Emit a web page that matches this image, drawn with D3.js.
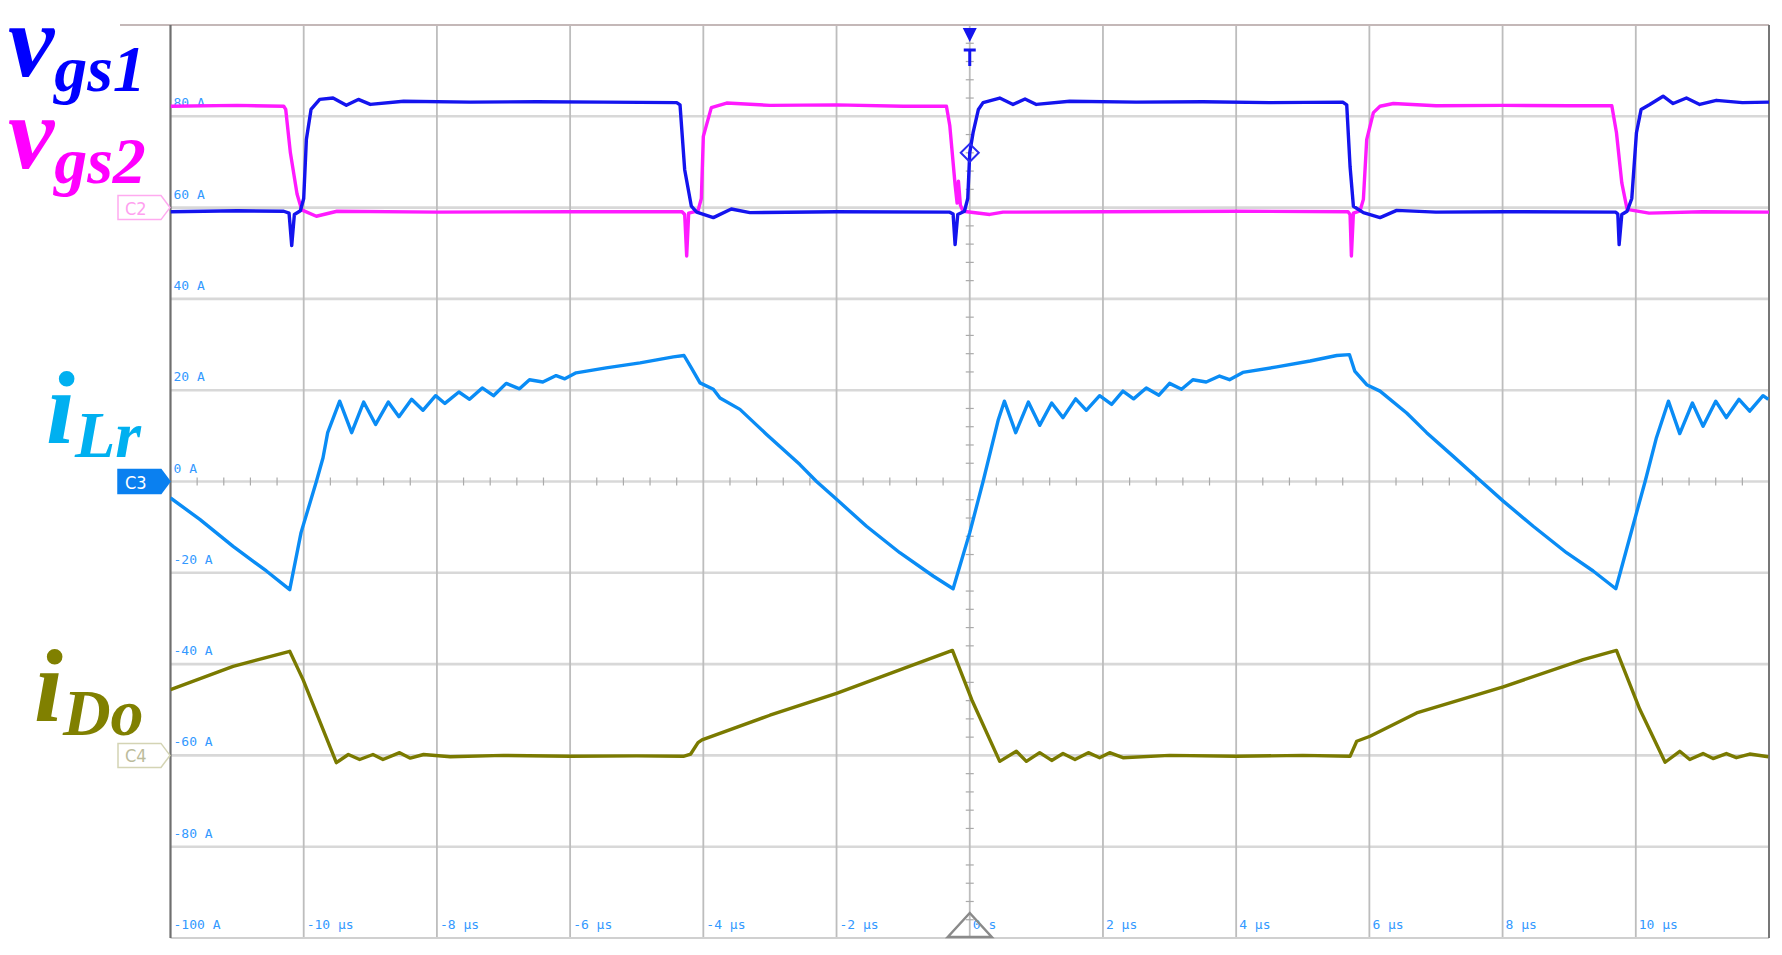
<!DOCTYPE html>
<html>
<head>
<meta charset="utf-8">
<title>vgs1 vgs2 iLr iDo</title>
<script src="https://cdn.jsdelivr.net/npm/d3@7"></script>
<style>
  body { margin: 0; background: #fff; }
  svg { display: block; }
  .ticklabel { font-family: "DejaVu Sans Mono", monospace; font-size: 13px; fill: #3399ff; }
  .sig { font-family: "Liberation Serif", "Times New Roman", serif; font-weight: bold; font-style: italic; }
</style>
</head>
<body>
<div id="chart"></div>
<script>
// time axis (µs) and current axis (A) tick labels
var timeTicks = [-10, -8, -6, -4, -2, 0, 2, 4, 6, 8, 10];
var timeLabels = ["-10 µs", "-8 µs", "-6 µs", "-4 µs", "-2 µs", "0 s", "2 µs", "4 µs", "6 µs", "8 µs", "10 µs"];
var ampTicks = [80, 60, 40, 20, 0, -20, -40, -60, -80, -100];
var ampLabels = ["80 A", "60 A", "40 A", "20 A", "0 A", "-20 A", "-40 A", "-60 A", "-80 A", "-100 A"];

// traces as [time µs, value on screen A-scale]
var vgs1 = [[-12, 59.1], [-11, 59.3], [-10.3, 59.2], [-10.22, 58.8], [-10.18, 51.7], [-10.14, 58.5], [-10.05, 59.3], [-10.0, 62], [-9.96, 74.9], [-9.89, 81.5], [-9.76, 83.7], [-9.56, 84.0], [-9.36, 82.4], [-9.18, 83.7], [-9.0, 82.6], [-8.5, 83.3], [-7.5, 83.1], [-6.5, 83.2], [-5.5, 83.1], [-4.4, 83.0], [-4.35, 82.5], [-4.28, 68.3], [-4.18, 60.3], [-4.10, 59.0], [-3.85, 57.8], [-3.58, 59.7], [-3.3, 58.9], [-2, 59.1], [-0.3, 59.0], [-0.25, 58.6], [-0.22, 51.9], [-0.18, 58.5], [-0.08, 59.2], [-0.03, 62], [0, 72], [0.05, 76.4], [0.13, 81.5], [0.2, 83], [0.45, 84], [0.65, 82.6], [0.83, 83.8], [1.0, 82.6], [1.5, 83.3], [2.5, 83.1], [3.5, 83.2], [4.5, 83.0], [5.6, 83.1], [5.66, 82.5], [5.71, 69], [5.76, 60.3], [5.91, 58.9], [6.16, 57.8], [6.41, 59.4], [7, 59.0], [8, 59.1], [9.7, 59.0], [9.73, 58.6], [9.75, 51.9], [9.79, 58.5], [9.87, 59.2], [9.94, 62], [10.01, 76.4], [10.08, 81.5], [10.21, 82.6], [10.41, 84.4], [10.56, 82.8], [10.76, 84], [10.96, 82.6], [11.21, 83.5], [11.6, 83.0], [12, 83.1]];

var vgs2 = [[-12, 82.2], [-11, 82.4], [-10.3, 82.2], [-10.27, 81.5], [-10.2, 72], [-10.1, 63], [-10.03, 59.5], [-9.81, 58.1], [-9.5, 59.2], [-8, 59.0], [-6, 59.1], [-4.32, 59.1], [-4.28, 58.5], [-4.25, 49.4], [-4.22, 58.8], [-4.08, 59.3], [-4.03, 62], [-4.0, 75.6], [-3.88, 81.9], [-3.65, 82.9], [-3, 82.4], [-2, 82.5], [-1, 82.2], [-0.35, 82.2], [-0.3, 78], [-0.22, 65], [-0.19, 61], [-0.17, 65.8], [-0.14, 60.5], [-0.1, 59.2], [0.3, 58.5], [0.5, 59.0], [2, 59.1], [4, 59.2], [5.68, 59.1], [5.71, 58.5], [5.73, 49.4], [5.76, 58.8], [5.86, 59.3], [5.91, 61.8], [5.96, 74.9], [6.06, 80.8], [6.16, 82.2], [6.36, 82.8], [7, 82.3], [8, 82.4], [9, 82.3], [9.64, 82.3], [9.71, 76.4], [9.79, 65.4], [9.87, 59.6], [10.2, 58.8], [11, 59.1], [12, 59.0]];

var iLr = [[-12.0, -3.6], [-11.56, -8.3], [-11.06, -14.2], [-10.56, -19.6], [-10.21, -23.7], [-10.04, -11.2], [-9.81, 0], [-9.71, 5.2], [-9.64, 10.7], [-9.46, 17.6], [-9.28, 10.7], [-9.10, 17.4], [-8.92, 12.5], [-8.73, 17.4], [-8.57, 14.2], [-8.38, 18.0], [-8.21, 15.6], [-8.02, 18.8], [-7.88, 17.1], [-7.67, 19.6], [-7.51, 18.0], [-7.32, 20.5], [-7.15, 18.8], [-6.96, 21.5], [-6.76, 20.3], [-6.61, 22.3], [-6.41, 21.8], [-6.21, 23.2], [-6.08, 22.5], [-5.91, 23.8], [-5.46, 24.9], [-4.95, 26.0], [-4.45, 27.3], [-4.29, 27.6], [-4.18, 24.9], [-4.05, 21.6], [-3.85, 20.2], [-3.75, 18.3], [-3.45, 15.8], [-3.05, 10.3], [-2.55, 3.7], [-2.30, 0], [-2.0, -3.9], [-1.55, -9.8], [-1.05, -15.6], [-0.55, -20.7], [-0.25, -23.5], [0, -11.2], [0.2, 0], [0.43, 13.6], [0.52, 17.6], [0.69, 10.7], [0.88, 17.4], [1.05, 12.3], [1.23, 17.2], [1.40, 14.0], [1.59, 18.1], [1.75, 15.6], [1.95, 18.8], [2.13, 16.9], [2.30, 19.8], [2.46, 18.1], [2.65, 20.5], [2.84, 18.9], [3.00, 21.5], [3.18, 20.2], [3.35, 22.3], [3.55, 21.8], [3.75, 23.1], [3.90, 22.3], [4.10, 23.9], [4.61, 25.1], [5.11, 26.4], [5.51, 27.6], [5.70, 27.8], [5.78, 24.2], [5.96, 21.2], [6.16, 19.8], [6.56, 15.0], [6.86, 10.7], [7.26, 5.5], [7.68, 0], [8.01, -4.3], [8.46, -9.8], [8.96, -15.6], [9.36, -19.6], [9.70, -23.5], [10.01, -6.9], [10.14, 0], [10.31, 9.6], [10.49, 17.6], [10.66, 10.5], [10.85, 17.2], [11.01, 12.1], [11.20, 17.6], [11.36, 14.0], [11.55, 18.0], [11.71, 15.4], [11.91, 18.8], [11.99, 18.0]];

var iDo = [[-12.0, -45.6], [-11.06, -40.5], [-10.21, -37.2], [-10.01, -43.4], [-9.51, -61.6], [-9.33, -59.8], [-9.16, -60.9], [-8.96, -59.8], [-8.81, -60.9], [-8.56, -59.4], [-8.4, -60.6], [-8.2, -59.8], [-7.8, -60.3], [-7, -60.0], [-6, -60.2], [-5, -60.1], [-4.3, -60.2], [-4.19, -59.7], [-4.08, -57.2], [-4.02, -56.6], [-3, -51.2], [-2, -46.4], [-1, -41.0], [-0.26, -37.0], [0.03, -47.8], [0.45, -61.3], [0.70, -59.1], [0.85, -61.3], [1.05, -59.4], [1.23, -61.1], [1.40, -59.6], [1.58, -60.9], [1.78, -59.4], [1.95, -60.5], [2.10, -59.4], [2.30, -60.5], [3, -60.0], [4, -60.2], [5, -60.0], [5.71, -60.2], [5.81, -56.9], [6.01, -55.8], [6.71, -50.7], [8.01, -45.0], [9.21, -39.0], [9.71, -37.0], [10.06, -49.9], [10.44, -61.5], [10.66, -59.1], [10.81, -60.9], [11.01, -59.6], [11.16, -60.7], [11.36, -59.6], [11.51, -60.5], [11.71, -59.7], [11.99, -60.3]];

var W = 1782, H = 955;
// plot frame (note: "top" is a reserved window prop, so prefix these)
var pLeft = 170.5, pRight = 1769, pTop = 25, pBottom = 938;

var svg = d3.select("#chart").append("svg").attr("width", W).attr("height", H);
svg.append("rect").attr("width", W).attr("height", H).attr("fill", "#fff");

var x = d3.scaleLinear().domain([-12, 12]).range([pLeft, pRight]);
var y = d3.scaleLinear().domain([-100, 100]).range([pBottom, pTop]);

//grid: horizontal lines every division (light), vertical every 2 µs
svg.append("g").selectAll("line").data(d3.range(-80, 100, 20)).enter().append("line")
  .attr("x1", pLeft).attr("x2", pRight)
  .attr("y1", function(d){ return y(d); }).attr("y2", function(d){ return y(d); })
  .attr("stroke", "#d8d8d8").attr("stroke-width", 2.6);

svg.append("g").selectAll("line").data(d3.range(-10, 12, 2)).enter().append("line")
  .attr("y1", pTop).attr("y2", pBottom)
  .attr("x1", function(d){ return x(d); }).attr("x2", function(d){ return x(d); })
  .attr("stroke", "#bdbdbd").attr("stroke-width", 1.8);

//bottom edge + top edge
svg.append("line").attr("x1", pLeft).attr("x2", pRight).attr("y1", pBottom).attr("y2", pBottom)
  .attr("stroke", "#d0d0d0").attr("stroke-width", 2);
svg.append("line").attr("x1", 120).attr("x2", pRight).attr("y1", pTop).attr("y2", pTop)
  .attr("stroke", "#c4b8b8").attr("stroke-width", 2);

//minor ticks on the centre cross (5 per division)
var xMinor = d3.range(-30, 31).filter(function(d){ return d % 5 !== 0; }).map(function(d){ return d * 0.4; });
svg.append("g").selectAll("line").data(xMinor).enter().append("line")
  .attr("x1", function(d){ return x(d); }).attr("x2", function(d){ return x(d); })
  .attr("y1", y(0) - 4).attr("y2", y(0) + 4)
  .attr("stroke", "#aaa").attr("stroke-width", 1.2);
var yMinor = d3.range(-100, 100.01, 4).filter(function(d){ return d % 20 !== 0; });
svg.append("g").selectAll("line").data(yMinor).enter().append("line")
  .attr("y1", function(d){ return y(d); }).attr("y2", function(d){ return y(d); })
  .attr("x1", x(0) - 4).attr("x2", x(0) + 4)
  .attr("stroke", "#aaa").attr("stroke-width", 1.2);

//left and right frame
svg.append("line").attr("x1", pLeft).attr("x2", pLeft).attr("y1", pTop).attr("y2", pBottom)
  .attr("stroke", "#6f6f6f").attr("stroke-width", 2.2);
svg.append("line").attr("x1", pRight).attr("x2", pRight).attr("y1", pTop).attr("y2", pBottom)
  .attr("stroke", "#777").attr("stroke-width", 2);

//amplitude labels sit just above each grid line
svg.append("g").selectAll("text").data(ampTicks).enter().append("text")
  .attr("class", "ticklabel")
  .attr("x", pLeft + 3)
  .attr("y", function(d){ return y(d) - 9; })
  .text(function(d, i){ return ampLabels[i]; });

svg.append("g").selectAll("text").data(timeTicks).enter().append("text")
  .attr("class", "ticklabel")
  .attr("x", function(d){ return x(d) + 3; })
  .attr("y", pBottom - 9)
  .text(function(d, i){ return timeLabels[i]; });

//traces
svg.append("clipPath").attr("id", "plot").append("rect")
  .attr("x", pLeft).attr("y", pTop).attr("width", pRight - pLeft).attr("height", pBottom - pTop);

var line = d3.line().x(function(d){ return x(d[0]); }).y(function(d){ return y(d[1]); });
var traces = [
  {data: vgs2, color: "#ff1aff", w: 3.4},
  {data: vgs1, color: "#1414ee", w: 3.4},
  {data: iLr, color: "#0a8cf5", w: 3.4},
  {data: iDo, color: "#7a7a00", w: 3.4}
];
svg.append("g").attr("clip-path", "url(#plot)").selectAll("path").data(traces).enter().append("path")
  .attr("d", function(d){ return line(d.data); })
  .attr("fill", "none")
  .attr("stroke", function(d){ return d.color; })
  .attr("stroke-width", function(d){ return d.w; })
  .attr("stroke-linejoin", "round");

//trigger markers
var tx = x(0);
svg.append("path").attr("d", "M" + (tx - 7) + ",28 L" + (tx + 7) + ",28 L" + tx + ",42 Z").attr("fill", "#1414ee");
svg.append("path").attr("d", "M" + (tx - 6) + ",50 H" + (tx + 6) + " M" + tx + ",50 V66")
  .attr("stroke", "#1414ee").attr("stroke-width", 3).attr("fill", "none");
svg.append("path").attr("d", "M" + (tx - 9) + "," + y(72) + " L" + tx + "," + (y(72) - 9) + " L" + (tx + 9) + "," + y(72) + " L" + tx + "," + (y(72) + 9) + " Z")
  .attr("stroke", "#2a2af0").attr("stroke-width", 2).attr("fill", "none");
svg.append("path").attr("d", "M" + (tx - 22) + "," + (pBottom - 1) + " L" + tx + "," + (pBottom - 25) + " L" + (tx + 22) + "," + (pBottom - 1) + " Z")
  .attr("stroke", "#8a8a8a").attr("stroke-width", 2.5).attr("fill", "none");

//channel tags on the left frame
function tag(level, fill, stroke, label, textColor) {
  var yy = y(level);
  svg.append("path")
    .attr("d", "M118," + (yy - 12) + " H161 L170," + yy + " L161," + (yy + 12) + " H118 Z")
    .attr("fill", fill).attr("stroke", stroke).attr("stroke-width", 1.5);
  svg.append("text").attr("x", 125).attr("y", yy + 7)
    .attr("font-family", "DejaVu Sans Condensed, DejaVu Sans, sans-serif").attr("font-size", 18)
    .attr("fill", textColor).text(label);
}
tag(60, "#fff", "#ffaaf0", "C2", "#ffa0f0");
tag(0, "#0a80f0", "#0a80f0", "C3", "#fff");
tag(-60, "#fff", "#d4d4b4", "C4", "#bcbc9c");

//signal names
function sigLabel(xx, yy, main, sub, color, dy) {
  var t = svg.append("text").attr("class", "sig").attr("x", xx).attr("y", yy).attr("fill", color);
  t.append("tspan").attr("font-size", 104).text(main);
  t.append("tspan").attr("font-size", 66).attr("dy", dy).text(sub);
}
sigLabel(8, 76, "v", "gs1", "#0000ff", 15);
sigLabel(8, 168, "v", "gs2", "#ff00ff", 15);
sigLabel(46, 443, "i", "Lr", "#00b0f0", 14);
sigLabel(34, 721, "i", "Do", "#808000", 14);
</script>
</body>
</html>
